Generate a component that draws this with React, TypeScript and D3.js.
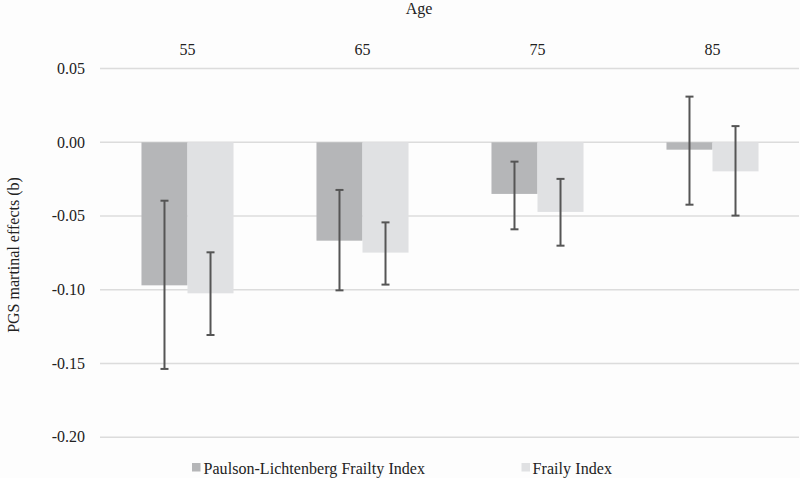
import React from "react";
import * as d3 from "d3";

const ages = ["55", "65", "75", "85"];
const seriesNames = ["Paulson-Lichtenberg Frailty Index", "Fraily Index"];
const plValues = [-0.097, -0.0667, -0.035, -0.005];
const plLow = [-0.1537, -0.1004, -0.059, -0.0423];
const plHigh = [-0.0396, -0.0323, -0.0131, 0.031];
const fiValues = [-0.1024, -0.0748, -0.0472, -0.0197];
const fiLow = [-0.1307, -0.0965, -0.0701, -0.0497];
const fiHigh = [-0.0746, -0.0543, -0.0248, 0.011];
const yTicks = [0.05, 0.0, -0.05, -0.1, -0.15, -0.2];

const W = 800;
const H = 478;
const colors = ["#b5b6b8", "#e0e1e3"];
const font = "Liberation Serif";
const FS = 16;

export default function App() {
  const x = d3.scaleBand<string>().domain(ages).range([100, 800]).paddingInner(0.474).paddingOuter(0.237);
  const xs = d3.scaleBand<string>().domain(seriesNames).range([0, x.bandwidth()]);
  const y = d3.scaleLinear().domain([-0.2, 0.05]).range([437.2, 68.6]);

  const series = [
    { name: seriesNames[0], vals: plValues, lo: plLow, hi: plHigh, color: colors[0] },
    { name: seriesNames[1], vals: fiValues, lo: fiLow, hi: fiHigh, color: colors[1] },
  ];
  const ts: React.CSSProperties = { fontFamily: font };

  return (
    <svg width={W} height={H} style={{ position: "absolute", left: 0, top: 0, background: "#fdfdfd" }}>
      <rect x={0} y={0} width={W} height={H} fill="#fdfdfd" />
      {yTicks.map((t) => (
        <g key={t}>
          <line x1={100} x2={799} y1={y(t)} y2={y(t)} stroke="#dcdcdc" strokeWidth={1.5} />
          <text x={85} y={y(t)} dy="0.33em" textAnchor="end" fontSize={FS} fill="#222" style={ts}>
            {t.toFixed(2)}
          </text>
        </g>
      ))}
      {series.map((s) =>
        ages.map((a, i) => {
          const x0 = (x(a) as number) + (xs(s.name) as number);
          const y0 = y(0);
          const y1 = y(s.vals[i]);
          return (
            <rect key={s.name + a} x={x0} width={xs.bandwidth()} y={Math.min(y0, y1)} height={Math.abs(y1 - y0)} fill={s.color} />
          );
        })
      )}
      {series.map((s) =>
        ages.map((a, i) => {
          const cx = (x(a) as number) + (xs(s.name) as number) + xs.bandwidth() / 2;
          return (
            <g key={"e" + s.name + a} stroke="#555" strokeWidth={2}>
              <line x1={cx} x2={cx} y1={y(s.hi[i])} y2={y(s.lo[i])} />
              <line x1={cx - 4} x2={cx + 4} y1={y(s.hi[i])} y2={y(s.hi[i])} />
              <line x1={cx - 4} x2={cx + 4} y1={y(s.lo[i])} y2={y(s.lo[i])} />
            </g>
          );
        })
      )}
      {ages.map((a) => (
        <text key={"l" + a} x={(x(a) as number) + x.bandwidth() / 2} y={50} dy="0.33em" textAnchor="middle" fontSize={FS} fill="#222" style={ts}>
          {a}
        </text>
      ))}
      <text x={419} y={9} dy="0.33em" textAnchor="middle" fontSize={FS} fill="#222" style={ts}>Age</text>
      <text transform={`translate(14,255) rotate(-90)`} dy="0.33em" textAnchor="middle" fontSize={FS} fill="#222" style={ts}>
        PGS martinal effects (b)
      </text>
      <g>
        <rect x={192} y={463} width={8.5} height={8.5} fill={colors[0]} />
        <text x={203.5} y={473.5} fontSize={FS} fill="#222" style={ts} textLength={221.5} lengthAdjust="spacing">{seriesNames[0]}</text>
        <rect x={521.5} y={463} width={8.5} height={8.5} fill={colors[1]} />
        <text x={532.5} y={473.5} fontSize={FS} fill="#222" style={ts} textLength={79.5} lengthAdjust="spacing">{seriesNames[1]}</text>
      </g>
    </svg>
  );
}
